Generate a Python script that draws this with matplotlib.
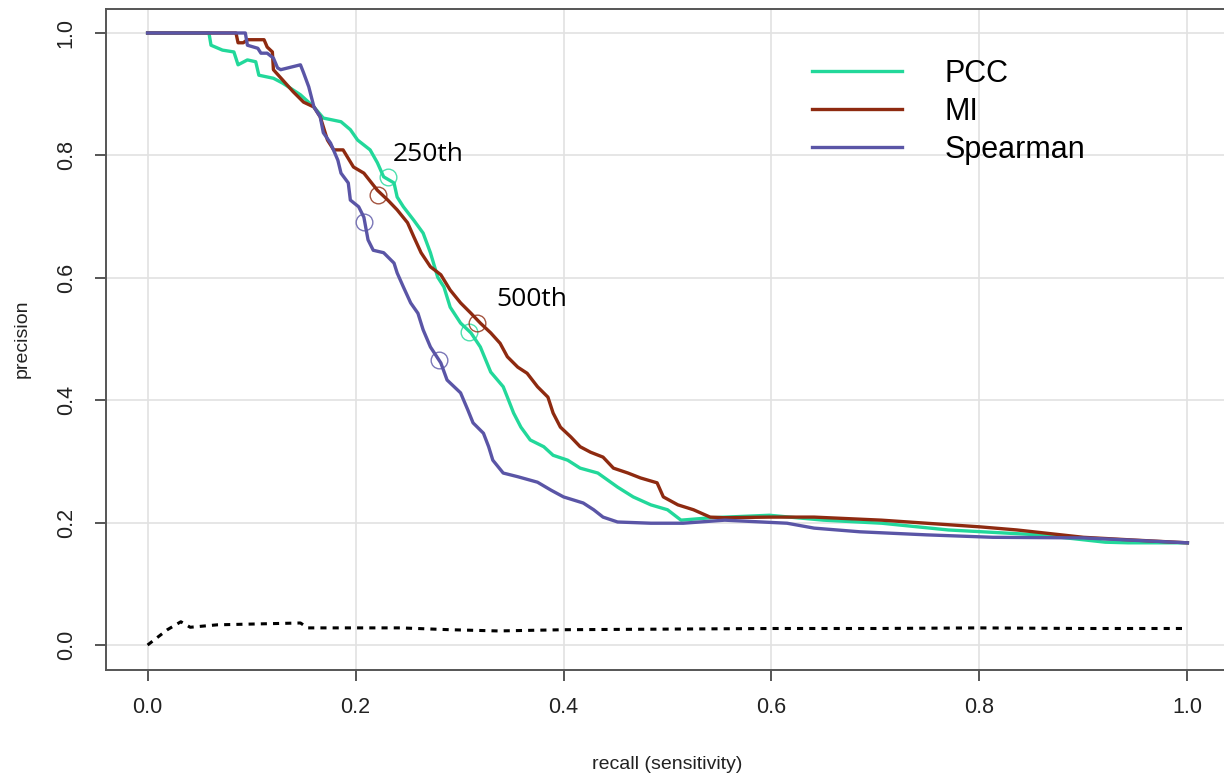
import matplotlib
matplotlib.use("Agg")
import matplotlib.pyplot as plt

# --- data (recall, precision) ---
pcc_recall = [0.0, 0.059, 0.061, 0.072, 0.083, 0.087, 0.096, 0.104, 0.107, 0.121, 0.130, 0.147,
              0.160, 0.169, 0.186, 0.195, 0.202, 0.214, 0.221, 0.227, 0.237, 0.240, 0.246, 0.256,
              0.265, 0.272, 0.279, 0.285, 0.291, 0.301, 0.311, 0.320, 0.330, 0.342, 0.346, 0.352,
              0.359, 0.368, 0.381, 0.390, 0.404, 0.416, 0.433, 0.452, 0.467, 0.484, 0.500, 0.513,
              0.542, 0.598, 0.650, 0.706, 0.770, 0.857, 0.921, 0.943, 1.0]
pcc_prec = [1.0, 1.0, 0.980, 0.972, 0.969, 0.948, 0.956, 0.953, 0.931, 0.926, 0.918, 0.899,
            0.879, 0.861, 0.855, 0.842, 0.825, 0.809, 0.788, 0.765, 0.755, 0.732, 0.716, 0.694,
            0.673, 0.641, 0.601, 0.585, 0.552, 0.526, 0.510, 0.487, 0.446, 0.422, 0.405, 0.379,
            0.356, 0.335, 0.324, 0.310, 0.302, 0.289, 0.281, 0.258, 0.242, 0.229, 0.221, 0.204,
            0.208, 0.212, 0.204, 0.199, 0.188, 0.180, 0.168, 0.167, 0.167]

mi_recall = [0.0, 0.085, 0.087, 0.092, 0.096, 0.112, 0.115, 0.120, 0.121, 0.130, 0.140, 0.150,
             0.160, 0.166, 0.173, 0.179, 0.188, 0.198, 0.208, 0.221, 0.231, 0.240, 0.250, 0.256,
             0.263, 0.272, 0.282, 0.291, 0.301, 0.311, 0.320, 0.330, 0.339, 0.346, 0.356, 0.365,
             0.375, 0.385, 0.390, 0.397, 0.407, 0.416, 0.426, 0.438, 0.448, 0.462, 0.474, 0.490,
             0.496, 0.510, 0.525, 0.541, 0.554, 0.598, 0.641, 0.706, 0.749, 0.801, 0.836, 0.900,
             0.943, 1.0]
mi_prec = [1.0, 1.0, 0.984, 0.984, 0.989, 0.989, 0.977, 0.969, 0.940, 0.923, 0.904, 0.887,
           0.879, 0.863, 0.825, 0.809, 0.809, 0.781, 0.771, 0.743, 0.727, 0.711, 0.690, 0.667,
           0.641, 0.618, 0.605, 0.580, 0.559, 0.542, 0.526, 0.510, 0.493, 0.471, 0.454, 0.444,
           0.422, 0.405, 0.379, 0.356, 0.340, 0.324, 0.315, 0.307, 0.289, 0.281, 0.273, 0.265,
           0.242, 0.229, 0.221, 0.209, 0.208, 0.209, 0.209, 0.204, 0.199, 0.193, 0.188, 0.176,
           0.172, 0.167]

sp_recall = [0.0, 0.094, 0.096, 0.106, 0.109, 0.115, 0.121, 0.125, 0.128, 0.147, 0.150, 0.155,
             0.160, 0.166, 0.169, 0.176, 0.183, 0.186, 0.193, 0.195, 0.203, 0.208, 0.212, 0.217,
             0.227, 0.237, 0.240, 0.246, 0.253, 0.260, 0.265, 0.272, 0.282, 0.288, 0.301, 0.308,
             0.313, 0.323, 0.328, 0.332, 0.342, 0.356, 0.375, 0.388, 0.400, 0.419, 0.429, 0.438,
             0.452, 0.484, 0.515, 0.555, 0.615, 0.641, 0.685, 0.749, 0.813, 0.900, 1.0]
sp_prec = [1.0, 1.0, 0.980, 0.975, 0.967, 0.967, 0.959, 0.943, 0.940, 0.948, 0.935, 0.912,
           0.879, 0.863, 0.837, 0.820, 0.792, 0.771, 0.755, 0.727, 0.716, 0.699, 0.662, 0.645,
           0.641, 0.624, 0.608, 0.585, 0.559, 0.542, 0.515, 0.487, 0.461, 0.433, 0.412, 0.384,
           0.363, 0.346, 0.324, 0.302, 0.281, 0.275, 0.266, 0.253, 0.242, 0.232, 0.221, 0.209,
           0.201, 0.199, 0.199, 0.204, 0.199, 0.191, 0.185, 0.180, 0.176, 0.175, 0.167]

rand_recall = [0.0, 0.019, 0.032, 0.041, 0.067, 0.147, 0.154, 0.198, 0.243, 0.291, 0.337,
               0.4, 0.5, 0.6, 0.7, 0.8, 0.9, 1.0]
rand_prec = [0.0, 0.025, 0.038, 0.029, 0.033, 0.036, 0.028, 0.028, 0.028, 0.025, 0.023,
             0.025, 0.026, 0.027, 0.027, 0.028, 0.027, 0.027]

# 250th and 500th ranked predictions
mark_recall = {"PCC": [0.231, 0.309], "MI": [0.222, 0.317], "Spearman": [0.208, 0.280]}
mark_prec = {"PCC": [0.765, 0.511], "MI": [0.735, 0.526], "Spearman": [0.691, 0.466]}

colors = {"PCC": "#22D89A", "MI": "#8E2A10", "Spearman": "#5A55A6"}
ticks = [0.0, 0.2, 0.4, 0.6, 0.8, 1.0]
tick_labels = ["0.0", "0.2", "0.4", "0.6", "0.8", "1.0"]

plt.rcParams['font.family'] = ['Liberation Sans', 'DejaVu Sans']
narrow = ['Liberation Sans Narrow', 'Liberation Sans']

fig = plt.figure(figsize=(12.24, 7.73), dpi=100)
W, H = 1224, 773
ax = fig.add_axes([106 / W, (H - 669.5) / H, (1229 - 106) / W, (669.5 - 8.5) / H])

ax.set_xlim(-0.04, 1.04)
ax.set_ylim(-0.04, 1.04)
ax.set_xticks(ticks)
ax.set_yticks(ticks)
ax.set_xticklabels(tick_labels)
ax.set_yticklabels(tick_labels, rotation=90, va="center", family=narrow)
ax.grid(True, color="#E2E2E2", lw=1.2)
ax.set_axisbelow(True)

for s in ax.spines.values():
    s.set_color("#555555")
    s.set_linewidth(1.4)
ax.tick_params(colors="#555555", width=1.4, length=8, labelsize=15.5, labelcolor="#222222")
ax.tick_params(axis="x", pad=12)
ax.tick_params(axis="y", pad=13)

series = [("PCC", pcc_recall, pcc_prec), ("MI", mi_recall, mi_prec),
          ("Spearman", sp_recall, sp_prec)]
for name, r, p in series:
    ax.plot(r, p, color=colors[name], lw=2.4, label=name)

for name, r, p in series:
    ax.plot(mark_recall[name], mark_prec[name], "o", ms=12, mfc="none",
            mec=colors[name], mew=1.0, alpha=0.8)

ax.plot(rand_recall, rand_prec, color="black", lw=2.2, linestyle=(0, (2, 2)))

ax.text(0.236, 0.802, "250th", fontsize=19, family="Open Sans", va="center", ha="left")
ax.text(0.335, 0.564, "500th", fontsize=19, family="Open Sans", va="center", ha="left")

ax.legend(loc="upper left", bbox_to_anchor=(812 / W, 1 - 59 / H),
          bbox_transform=fig.transFigure, frameon=False, fontsize=22,
          handlelength=2.95, handletextpad=1.4, labelspacing=0.26,
          borderpad=0, borderaxespad=0)

ax.set_xlabel("recall (sensitivity)", fontsize=14, color="#222222", labelpad=27)
ax.set_ylabel("precision", fontsize=14, color="#222222", labelpad=18, family=narrow)

fig.savefig("out.png", dpi=100)
